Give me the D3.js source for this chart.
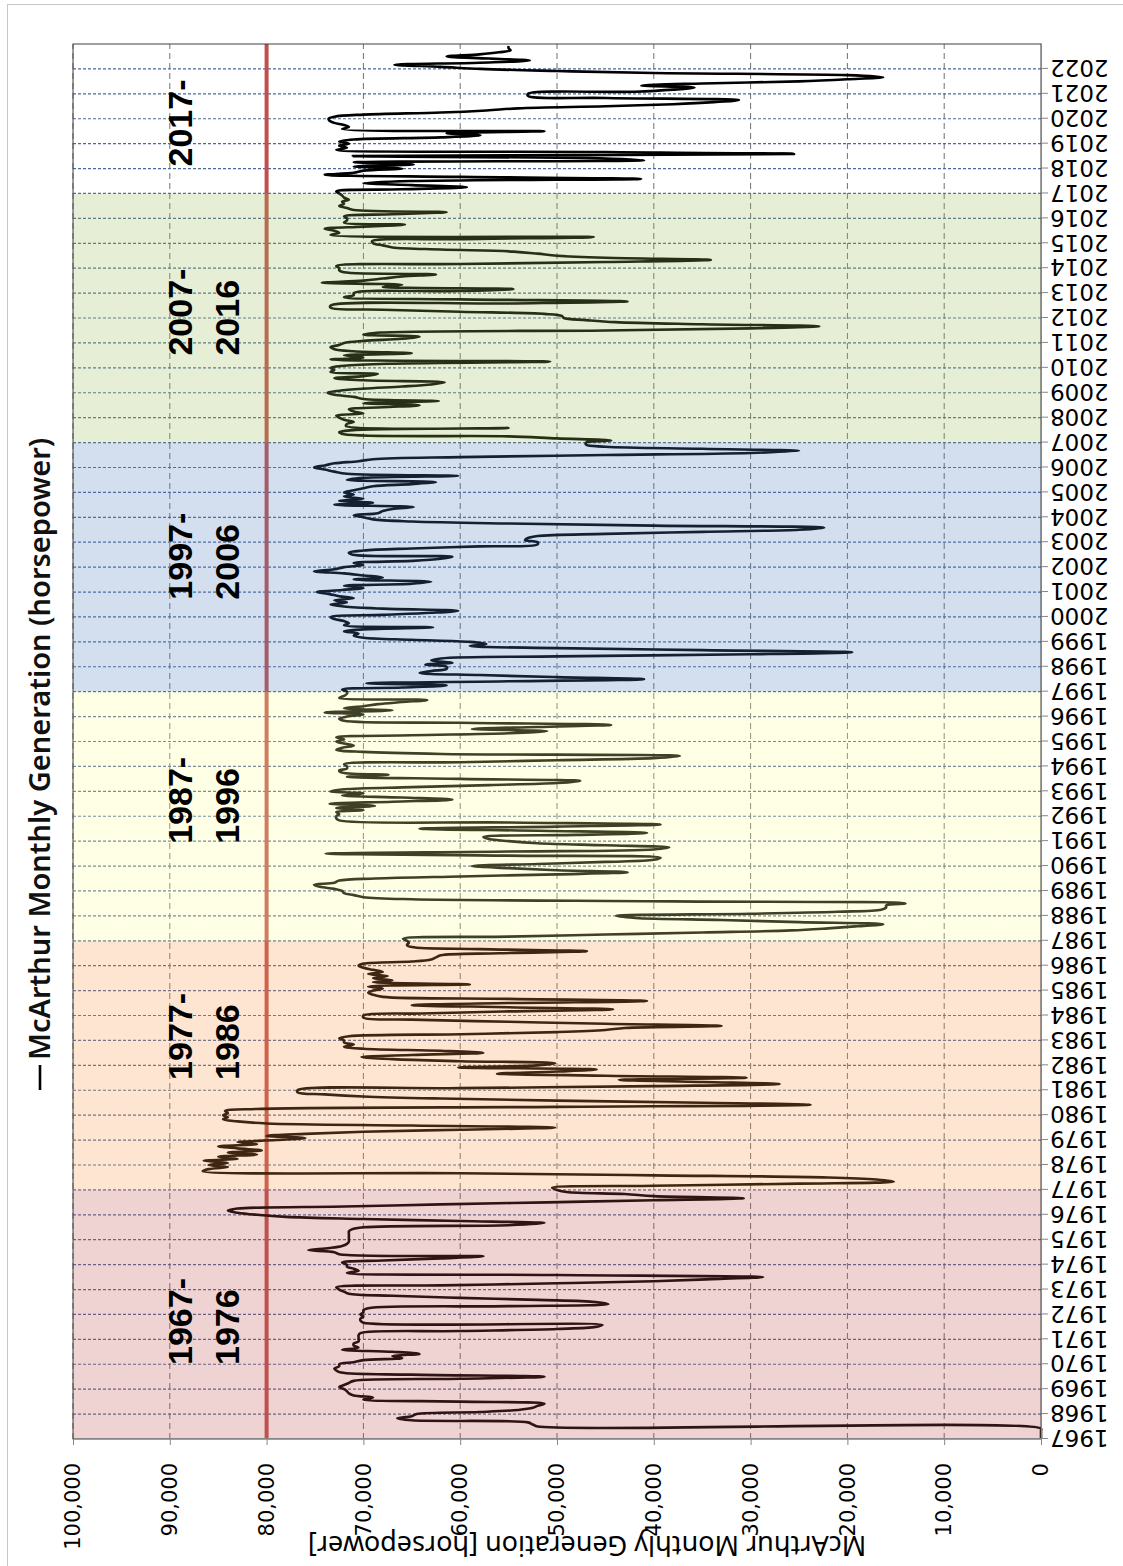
<!DOCTYPE html>
<html>
<head>
<meta charset="utf-8">
<script src="https://cdn.jsdelivr.net/npm/d3@7"></script>
<style>
  body { margin: 0; background: #fff; }
  svg { display: block; }
</style>
</head>
<body>
<svg id="chart" width="1123" height="1566"></svg>
<script>
// monthly generation, thousands of horsepower, Jan..Dec of each year
const gen1967 = [
  0, 0, 0, 0, 0, 0, 52, 52.5, 53, 65, 66.5, 65,
  64.5, 58, 54, 52.5, 52, 51.3, 60, 70, 69, 71, 71.5, 71.7,
  72, 72.5, 72, 71.5, 71, 60, 51.3, 65, 72.3, 72.8, 73, 72.5,
  72.5, 71, 70, 66, 67, 64.2, 67, 72.2, 70.5, 71, 71, 70.5,
  70.5, 70.5, 70.5, 70.3, 60, 50, 46, 45.3, 70, 70.3, 70.3, 70,
  70.3, 70, 70, 69.5, 55, 44.7, 46, 52, 60, 67, 71.5, 72,
  72.5, 72.8, 62, 50, 40, 34, 28.7, 50, 71.7, 70.5, 71, 71.7,
  71.7, 72.2, 68, 62, 57.6, 72.5, 73, 75.7, 73.5, 72.2, 71.7, 71.5,
  71.5, 71.5, 71.5, 71.5, 71.5, 71.2, 70, 55, 51.3, 60, 70, 78,
  81, 83, 84, 83, 72, 62, 51, 40, 30.7, 40, 43, 49
];
const gen1977 = [
  50, 50.5, 40, 25, 15.2, 17, 22, 40, 60, 86.6, 86, 84,
  86, 84, 86.5, 83, 85, 81, 84, 80.5, 83, 85, 81, 83,
  79, 76, 80, 76, 70, 60, 50.2, 65, 80, 83, 84.5, 84,
  84.5, 84, 84.3, 81, 50, 23.8, 35, 50, 62, 70, 74, 76.8,
  76.8, 60, 40, 27, 35, 43.6, 30.4, 45, 56.2, 50, 45.9, 60.2,
  52, 50.2, 60, 67, 70.2, 65, 57.6, 62, 70, 72, 71, 72,
  72, 72.5, 71.5, 60, 50, 45, 43, 33, 45, 55, 65, 70,
  70, 64, 55, 44.2, 55, 65, 55, 40.7, 55, 68, 69, 69.5,
  69, 68, 69.5, 59, 69, 67, 69, 67.5, 69.5, 68, 69, 70,
  70.5, 70, 65, 63, 62.5, 62, 56, 46.9, 58, 65, 65.5, 65.3
];
const gen1987 = [
  65.5, 65.9, 55, 45, 35, 25.8, 22, 19, 16.3, 25, 33, 41.9,
  43.9, 30, 21, 16.5, 16, 16, 14, 38, 65, 70, 71, 72,
  72.2, 73, 74.5, 75.1, 73, 72.5, 68.8, 60, 50, 42.7, 50, 55,
  58.8, 52, 45, 40, 39.3, 55, 73.9, 55, 40, 38.4, 45, 52,
  55, 57, 57.6, 48, 40.7, 52, 64.2, 50, 39.3, 55, 72.5, 72.8,
  72.8, 72.5, 72.8, 70, 72.8, 68.8, 73.5, 67, 60.8, 66, 72.2, 70,
  73.4, 72, 65, 57, 50, 47.6, 60, 71.7, 67.4, 72.2, 72.5, 71.7,
  71.7, 72, 60, 50, 40, 37.3, 61.9, 70, 72.8, 72.2, 71, 72,
  72.8, 72, 72.8, 65, 55, 51, 58.8, 52, 44.4, 60, 72, 72.5,
  71.7, 70, 74, 67, 72, 70, 68.5, 66, 63.4, 72.5, 72, 71.7
];
const gen1997 = [
  71.7, 72.2, 66, 61.4, 69.7, 55, 41, 50, 58, 64.2, 63, 61.4,
  61.4, 63.6, 60.8, 63, 62, 50, 30, 19.5, 35, 50, 59, 57.3,
  59, 65, 70, 71, 70.5, 72, 70, 62.8, 72, 71.5, 72, 73,
  73.4, 68, 63, 60.2, 68, 72, 73.4, 71.7, 73, 71, 72.5, 73.5,
  74.8, 72.2, 70, 72, 65, 63, 71, 68, 70, 72, 75.1, 73,
  72, 70, 71, 65, 62, 60.8, 71.1, 71.5, 70, 65, 58, 52,
  52, 53.3, 53, 52, 45, 35, 25, 22.4, 40, 55, 65, 69,
  70, 71, 68.5, 68, 67, 64.8, 73, 69, 72.5, 70, 72, 71,
  72, 71, 70, 69, 65, 62.5, 71.7, 70, 60.2, 71.7, 73, 74,
  75.1, 74, 73, 70.5, 69, 60, 45, 30, 25, 35, 45, 47
];
const gen2007 = [
  47, 44.4, 50, 55, 72, 72.5, 71, 55, 71.8, 71.7, 71, 72,
  72.5, 72.8, 70, 71, 71.5, 68, 64.2, 70, 62.2, 70, 71, 73,
  73.7, 72.5, 70, 66, 63, 61.6, 70, 73, 70, 68.5, 73.4, 73,
  73.4, 72, 67, 50.7, 73.4, 70, 72, 65, 71, 73, 73.4, 72.5,
  72, 70, 66, 64.2, 70, 68.2, 45, 30, 22.9, 35, 44, 47,
  49.3, 49.5, 51.3, 60, 68, 73.4, 73.4, 55, 42.7, 60, 72, 71,
  71, 60, 54.5, 68, 66, 74.3, 70, 68, 66, 62.5, 72, 72.5,
  72.5, 72.8, 60, 45, 34.1, 45, 50, 52, 54.5, 62, 67, 68,
  69, 69.1, 60, 46.2, 73.4, 72.5, 73, 74, 70, 65.7, 72, 71.7,
  71.7, 72, 67, 61.4, 71, 71.7, 72.5, 72, 72.2, 71.5, 72, 72.2
];
const gen2017 = [
  72.5, 72.8, 66, 59.3, 65, 70, 65, 41.3, 60, 74, 71, 70,
  66, 71, 64.8, 71, 41, 47, 71.1, 25.5, 45, 72.8, 71.7, 72.5,
  71.5, 72.5, 71, 62, 57.9, 61.4, 51.3, 72.2, 71.5, 72, 73, 73.5,
  73.6, 73, 70, 62, 57.3, 54, 45, 38, 33.8, 31.2, 45, 53,
  53, 42, 38, 35.8, 41.3, 35, 25, 20, 16.3, 20, 40, 50,
  57.9, 62, 66.8, 58, 52.8, 57, 61.4, 58, 56, 54.8, 55, 55
];

const periodLabels = [['1967-', '1976'], ['1977-', '1986'], ['1987-', '1996'],
  ['1997-', '2006'], ['2007-', '2016'], ['2017-']];
const periodStart = [1967, 1977, 1987, 1997, 2007, 2017];
const periodEnd = [1977, 1987, 1997, 2007, 2017, 2023];
const yearTicks = d3.range(1967, 2023);
const valueTicks = d3.range(0, 100001, 10000);
const threshold = 80000;
const seriesName = 'McArthur Monthly Generation (horsepower)';
const axisTitle = 'McArthur Monthly Generation [horsepower]';

// layout / style
const bandColors = ['#c0504d', '#f79646', '#ffff99', '#4f81bd', '#9bbb59', 'none'];
const labelOffset = [74, 110, 97, 92, 87, 27]; // px from band start
const font = 'DejaVu Sans';

const data = [...gen1967, ...gen1977, ...gen1987, ...gen1997, ...gen2007, ...gen2017]
  .map((v, i) => ({ t: 1967 + i / 12, v: v * 1000 }));

// chart is laid out in landscape, then turned a quarter turn anticlockwise
const W = 1566;
const x = d3.scaleLinear().domain([1967, 2023]).range([127, 1522]);
const y = d3.scaleLinear().domain([0, 100000]).range([1041, 73]);

const svg = d3.select('#chart');
svg.append('rect').attr('width', 1123).attr('height', 1566).attr('fill', '#fff');
svg.append('rect')
  .attr('x', 7.5).attr('y', 4.5).attr('width', 1140).attr('height', 1580)
  .attr('fill', 'none').attr('stroke', '#c6c6c6');

const g = svg.append('g').attr('transform', `translate(0,${W}) rotate(-90)`);

// gridlines
g.append('g')
  .selectAll('line')
  .data(valueTicks.slice(1))
  .join('line')
  .attr('x1', x.range()[0]).attr('x2', x.range()[1])
  .attr('y1', d => y(d)).attr('y2', d => y(d))
  .attr('stroke', '#6f6f6f').attr('stroke-width', 1)
  .attr('stroke-dasharray', '6,4');

g.append('g')
  .selectAll('line')
  .data(yearTicks.slice(1))
  .join('line')
  .attr('x1', d => x(d)).attr('x2', d => x(d))
  .attr('y1', y.range()[1]).attr('y2', y.range()[0])
  .attr('stroke', '#4a6a9a').attr('stroke-width', 1.2)
  .attr('stroke-dasharray', '3,2');

// 80,000 reference line
g.append('line')
  .attr('x1', x.range()[0]).attr('x2', x.range()[1])
  .attr('y1', y(threshold)).attr('y2', y(threshold))
  .attr('stroke', '#c0504d').attr('stroke-width', 4);

// series
const line = d3.line()
  .x(d => x(d.t))
  .y(d => y(d.v))
  .curve(d3.curveCatmullRom.alpha(0.5));

g.append('path')
  .datum(data)
  .attr('fill', 'none')
  .attr('stroke', '#000')
  .attr('stroke-width', 2.6)
  .attr('stroke-linejoin', 'round')
  .attr('d', line);

// decade bands laid over the line
g.append('g')
  .selectAll('rect')
  .data(periodStart)
  .join('rect')
  .attr('x', d => x(d))
  .attr('width', (d, i) => x(periodEnd[i]) - x(d))
  .attr('y', y.range()[1])
  .attr('height', y.range()[0] - y.range()[1])
  .attr('fill', (d, i) => bandColors[i])
  .attr('fill-opacity', 0.25);

// plot frame
g.append('rect')
  .attr('x', x.range()[0]).attr('y', y.range()[1])
  .attr('width', x.range()[1] - x.range()[0])
  .attr('height', y.range()[0] - y.range()[1])
  .attr('fill', 'none').attr('stroke', '#404040').attr('stroke-width', 1);

// year axis
const xAxis = g.append('g')
  .attr('transform', `translate(0,${y.range()[0]})`)
  .call(d3.axisBottom(x).tickValues(yearTicks).tickFormat(d3.format('d')).tickSize(7).tickSizeOuter(0));
xAxis.select('.domain').attr('stroke', '#868686');
xAxis.selectAll('line').attr('stroke', '#868686');
xAxis.selectAll('text')
  .attr('transform', 'rotate(-90)')
  .attr('text-anchor', 'end')
  .attr('x', -9).attr('y', 0).attr('dy', '0.36em')
  .attr('font-family', font).attr('font-size', 23).attr('fill', '#000');

// value axis
const yAxis = g.append('g')
  .attr('transform', `translate(${x.range()[0]},0)`)
  .call(d3.axisLeft(y).tickValues(valueTicks).tickFormat(d3.format(',')).tickSize(6).tickSizeOuter(0).tickPadding(18));
yAxis.select('.domain').attr('stroke', '#868686');
yAxis.selectAll('line').attr('stroke', '#868686');
yAxis.selectAll('text')
  .attr('font-family', font).attr('font-size', 21).attr('fill', '#000');

// axis title
g.append('text')
  .attr('transform', `translate(21,587) rotate(-90)`)
  .attr('text-anchor', 'middle')
  .attr('dy', '0.35em')
  .attr('font-family', 'Noto Sans').attr('font-size', 27).attr('fill', '#000')
  .text(axisTitle);

// legend
const legend = g.append('g').attr('transform', 'translate(476,40)');
legend.append('line').attr('x1', 0).attr('x2', 25)
  .attr('stroke', '#000').attr('stroke-width', 2.6);
legend.append('text')
  .attr('x', 30).attr('dy', '0.35em')
  .attr('font-family', 'Noto Sans').attr('font-weight', 600).attr('font-size', 29).attr('fill', '#111')
  .text(seriesName);

// decade labels
const lbl = g.append('g')
  .selectAll('text')
  .data(periodLabels)
  .join('text')
  .attr('y', 192)
  .attr('dy', '0.35em')
  .attr('font-family', 'Liberation Sans').attr('font-weight', 'bold').attr('font-size', 34).attr('fill', '#000');
lbl.selectAll('tspan')
  .data((d, i) => d.map(s => ({ s, x: x(periodStart[i]) + labelOffset[i] })))
  .join('tspan')
  .attr('x', d => d.x)
  .attr('dy', (d, j) => j ? 47 : 0)
  .text(d => d.s);
</script>
</body>
</html>
